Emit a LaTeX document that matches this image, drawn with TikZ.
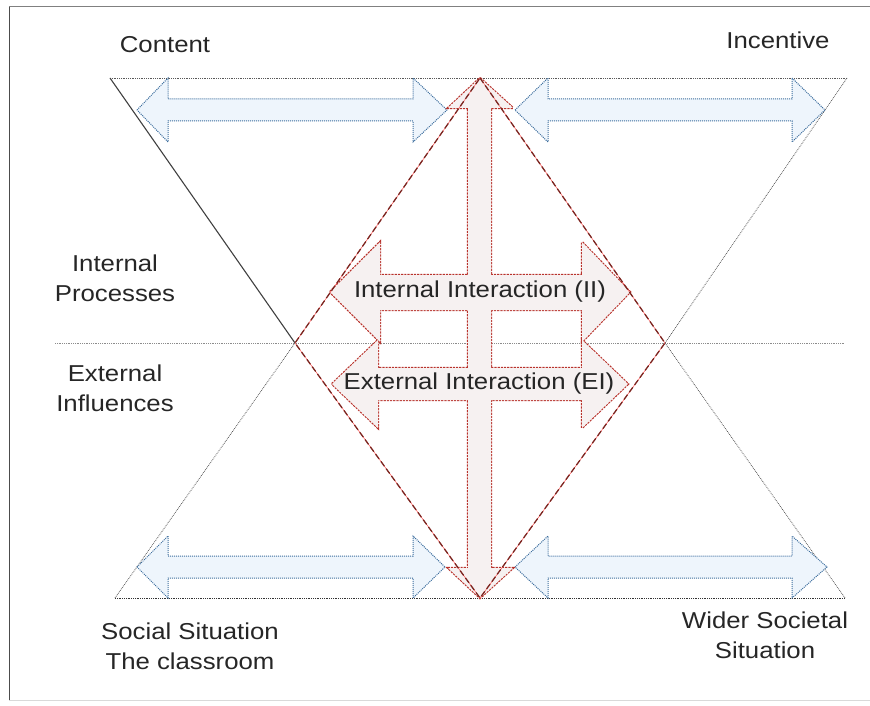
\documentclass[tikz,border=0pt]{standalone}
\usepackage{fontspec}
\newfontfamily\lblfont{Liberation Sans}[FakeStretch=1.12]
\definecolor{arrblue}{HTML}{3D6E9E}
\definecolor{fillblue}{HTML}{EEF5FC}
\definecolor{arrred}{HTML}{B8332C}
\definecolor{fillred}{HTML}{F6F1F1}
\definecolor{edgered}{HTML}{7A2520}
\tikzset{
  lbl/.style={font=\lblfont\fontsize{23}{30}\selectfont, text=black!85, align=center, inner sep=0pt},
  guide/.style={draw=black!65, densely dotted, line width=0.8pt},
  bluearrow/.style={draw=arrblue, densely dotted, line width=1pt, fill=fillblue},
  redrim/.style={draw=arrred, densely dotted, line width=2.2pt},
  redfill/.style={fill=fillred},
  diamondedge/.style={draw=edgered, dash pattern=on 6pt off 3pt, line width=1.3pt}
}
\begin{document}
\begin{tikzpicture}[x=1pt,y=-1pt]
      \useasboundingbox (0,0) rectangle (870,706);
      % frame
      \draw[black!70, line width=1pt] (9,7) -- (9,700);
      \draw[black!50, line width=1pt] (9,7) -- (870,7);
      \draw[black!15, line width=0.8pt] (9,700) -- (870,700);
      % hourglass
      \draw[guide] (110,78) -- (847,78);
      \draw[guide, black!45] (55,343) -- (845,343);
      \draw[guide, black!80] (115,598) -- (845,598);
      \draw[black!75, line width=1.1pt] (110,78) -- (295,343);
      \draw[guide] (847,78) -- (665,343);
      \draw[guide] (115,598) -- (295,343);
      \draw[guide] (845,598) -- (665,343);
      % blue arrows
      \draw[bluearrow] (137,110) -- (168,78) -- (168,99) -- (413,99) -- (413,78) -- (447,110)
        -- (413,142) -- (413,121) -- (168,121) -- (168,142) -- cycle;
      \draw[bluearrow] (515,110) -- (548,78) -- (548,99) -- (792,99) -- (792,78) -- (825,110)
        -- (792,142) -- (792,121) -- (548,121) -- (548,142) -- cycle;
      \draw[bluearrow] (137,567) -- (168,536) -- (168,556) -- (413,556) -- (413,536) -- (445,567)
        -- (413,598) -- (413,578) -- (168,578) -- (168,598) -- cycle;
      \draw[bluearrow] (515,567) -- (548,536) -- (548,556) -- (792,556) -- (792,536) -- (827,567)
        -- (792,598) -- (792,578) -- (548,578) -- (548,598) -- cycle;
      % red arrows: rims first, then fills so only the outer rim stays
      \begin{scope}
        \path[redrim] (480,78) -- (513,108) -- (491,108) -- (491,568) -- (513,568) -- (480,598)
          -- (448,568) -- (468,568) -- (468,108) -- (448,108) -- cycle;
        \path[redrim] (330,292) -- (380,242) -- (380,275) -- (582,275) -- (582,242) -- (630,292)
          -- (582,342) -- (582,310) -- (380,310) -- (380,342) -- cycle;
        \path[redrim] (332,384) -- (378,340) -- (378,368) -- (582,368) -- (582,340) -- (628,384)
          -- (582,428) -- (582,400) -- (378,400) -- (378,428) -- cycle;
        \path[redfill] (480,78) -- (513,108) -- (491,108) -- (491,568) -- (513,568) -- (480,598)
          -- (448,568) -- (468,568) -- (468,108) -- (448,108) -- cycle;
        \path[redfill] (330,292) -- (380,242) -- (380,275) -- (582,275) -- (582,242) -- (630,292)
          -- (582,342) -- (582,310) -- (380,310) -- (380,342) -- cycle;
        \path[redfill] (332,384) -- (378,340) -- (378,368) -- (582,368) -- (582,340) -- (628,384)
          -- (582,428) -- (582,400) -- (378,400) -- (378,428) -- cycle;
      \end{scope}
      % diamond
      \draw[red!60, line width=0.6pt] (480,78) -- (665,343) -- (480,598) -- (295,343) -- cycle;
      \draw[diamondedge] (480,78) -- (665,343) -- (480,598) -- (295,343) -- cycle;
      % labels
      \draw
        (165,45) node[lbl] (content){Content}
        (778,40) node[lbl] (incentive){Incentive}
        (115,278) node[lbl] (internal){Internal\\Processes}
        (115,388) node[lbl] (external){External\\Influences}
        (190,646) node[lbl] (social){Social Situation\\The classroom}
        (765,635) node[lbl] (wider){Wider Societal\\Situation}
        (480,292) node[lbl] (ii){Internal Interaction (II)}
        (479,384) node[lbl] (ei){External Interaction (EI)};
    \end{tikzpicture}
\end{document}
